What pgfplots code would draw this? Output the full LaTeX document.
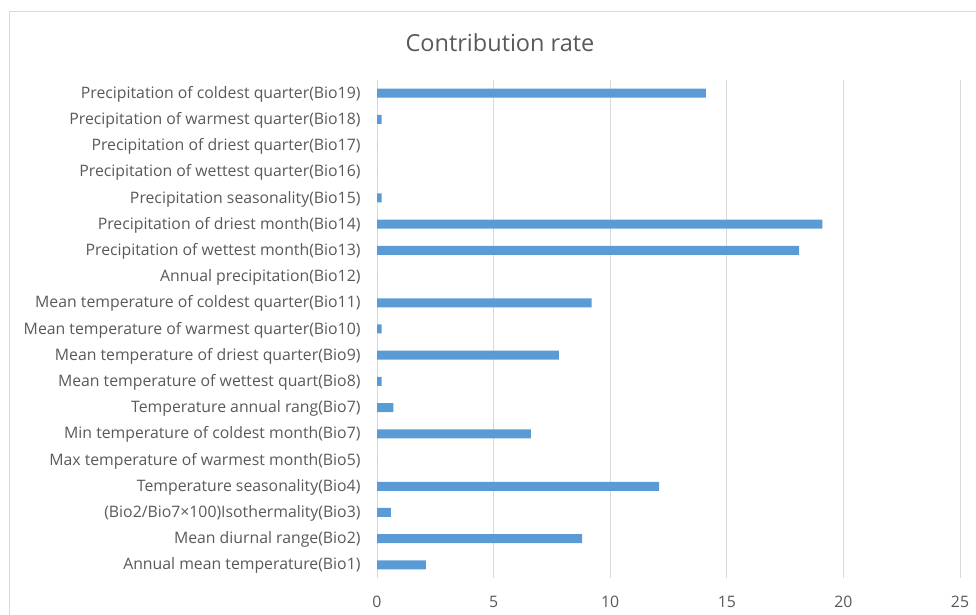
\documentclass[border=0pt]{standalone}
\usepackage{pgfplots}
\pgfplotsset{compat=1.18}
\usepackage{fontspec}
\setmainfont{Open Sans}
\definecolor{txt}{HTML}{595959}
\definecolor{grd}{HTML}{D9D9D9}
\definecolor{bar}{HTML}{5B9BD5}
\begin{document}
\begin{tikzpicture}[x=1pt,y=1pt]
\draw[grd, line width=0.8pt] (9,604) rectangle (1000,-20);
\node[text=txt, font=\fontsize{23.5}{28}\selectfont] at (500,572) {Contribution rate};
\begin{axis}[
  at={(377pt,37pt)}, anchor=south west,
  scale only axis, width=583pt, height=498pt,
  xmin=0, xmax=25, ymin=0.5, ymax=19.5,
  xbar, bar width=9pt,
  xtick={0,5,10,15,20,25},
  ytick={1,...,19},
  yticklabels={Annual mean temperature(Bio1),Mean diurnal range(Bio2),(Bio2/Bio7×100)Isothermality(Bio3),Temperature seasonality(Bio4),Max temperature of warmest month(Bio5),Min temperature of coldest month(Bio7),Temperature annual rang(Bio7),Mean temperature of wettest quart(Bio8),Mean temperature of driest quarter(Bio9),Mean temperature of warmest quarter(Bio10),Mean temperature of coldest quarter(Bio11),Annual precipitation(Bio12),Precipitation of wettest month(Bio13),Precipitation of driest month(Bio14),Precipitation seasonality(Bio15),Precipitation of wettest quarter(Bio16),Precipitation of driest quarter(Bio17),Precipitation of warmest quarter(Bio18),Precipitation of coldest quarter(Bio19)},
  axis line style={draw=none},
  major tick length=0pt,
  xmajorgrids, grid style={grd, line width=0.8pt},
  /pgf/number format/assume math mode=true,
  tick label style={text=txt, font=\fontsize{15.8}{18}\selectfont},
  yticklabel style={xshift=-13pt, yshift=-1pt},
  xticklabel style={yshift=-15pt},
]
\addplot[fill=bar, draw=none] coordinates {
(2.1,1) (8.8,2) (0.6,3) (12.1,4) (0,5) (6.6,6) (0.7,7) (0.2,8) (7.8,9) (0.2,10)
(9.2,11) (0,12) (18.1,13) (19.1,14) (0.2,15) (0,16) (0,17) (0.2,18) (14.1,19)
};
\end{axis}
\pgfresetboundingbox
\useasboundingbox (0,0) rectangle (976,615);
\end{tikzpicture}
\end{document}
